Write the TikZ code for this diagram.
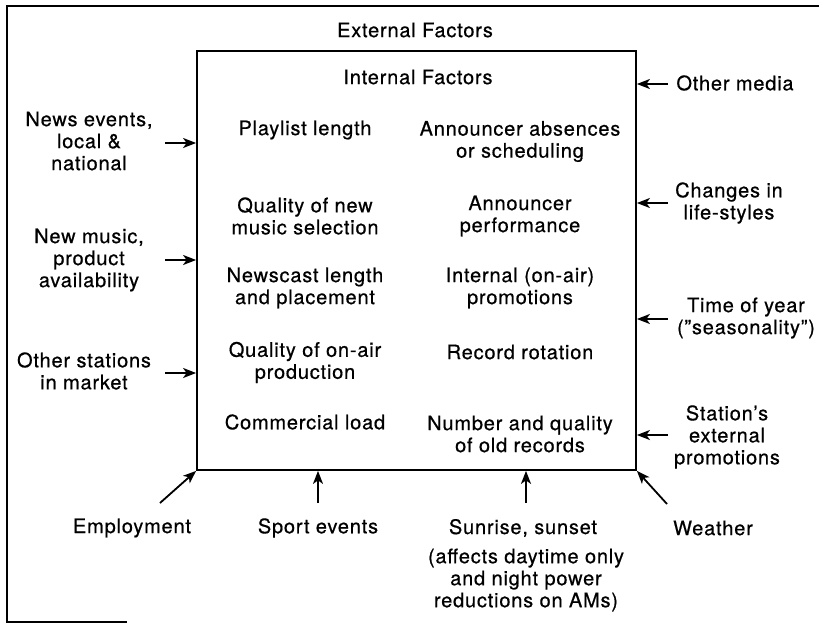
\documentclass[tikz,border=0pt]{standalone}
\usepackage{fontspec}
\setmainfont{TeX Gyre Heros}[LetterSpace=4,FakeBold=0.6]
\usetikzlibrary{arrows.meta}
\begin{document}
\begin{tikzpicture}[x=1pt,y=-1pt,
  font=\fontsize{20}{22}\selectfont,
  lbl/.style={align=center, inner sep=0pt},
  arr/.style={line width=1.8pt, -{Stealth[length=13pt,width=10pt,inset=3.5pt]}},
  frameline/.style={line width=1.8pt}]
\useasboundingbox (0,0) rectangle (819,624);

% outer partial frame
\coordinate (f1) at (819,6);
\coordinate (f2) at (7,6);
\coordinate (f3) at (7,622);
\coordinate (f4) at (127,622);
\draw[frameline] (f1) -- (f2) -- (f3) -- (f4);

% inner box
\node[draw, frameline, minimum width=439pt, minimum height=419pt, inner sep=0pt] (inner) at (416.5,260.5) {};

% titles
\node[lbl] (ext) at (415,30) {External Factors};
\node[lbl] (int) at (418,77) {Internal Factors};

% internal factors
\node[lbl] (i1) at (305,130) {Playlist length};
\node[lbl] (i2) at (520,141.5) {Announcer absences\\or scheduling};
\node[lbl] (i3) at (305,216) {Quality of new\\music selection};
\node[lbl] (i4) at (520,216) {Announcer\\performance};
\node[lbl] (i5) at (305,288) {Newscast length\\and placement};
\node[lbl] (i6) at (520,288) {Internal (on-air)\\promotions};
\node[lbl] (i7) at (305,362.5) {Quality of on-air\\production};
\node[lbl] (i8) at (520,352) {Record rotation};
\node[lbl] (i9) at (305,422) {Commercial load};
\node[lbl] (i10) at (520,434) {Number and quality\\of old records};

% left external factors
\node[lbl] (l1) at (89,141) {News events,\\local \&\\national};
\node[lbl] (l2) at (89,260) {New music,\\product\\availability};
\node[lbl] (l3) at (84,371) {Other stations\\in market};
\coordinate (la1) at (165,143);
\coordinate (la2) at (165,260);
\coordinate (la3) at (165,373);
\draw[arr] (la1) -- (la1 -| inner.west);
\draw[arr] (la2) -- (la2 -| inner.west);
\draw[arr] (la3) -- (la3 -| inner.west);

% right external factors
\node[lbl] (r1) at (735,83) {Other media};
\node[lbl] (r2) at (729,203) {Changes in\\life-styles};
\node[lbl] (r3) at (746,318) {Time of year\\(''seasonality'')};
\node[lbl] (r4) at (727,437) {Station's\\external\\promotions};
\coordinate (ra1) at (668,84);
\coordinate (ra2) at (668,203);
\coordinate (ra3) at (668,319);
\coordinate (ra4) at (668,435);
\draw[arr] (ra1) -- (ra1 -| inner.east);
\draw[arr] (ra2) -- (ra2 -| inner.east);
\draw[arr] (ra3) -- (ra3 -| inner.east);
\draw[arr] (ra4) -- (ra4 -| inner.east);

% bottom external factors
\node[lbl] (b1) at (132,528) {Employment};
\node[lbl] (b2) at (318,528) {Sport events};
\node[lbl] (b3) at (523,528) {Sunrise, sunset};
\node[lbl] (b3n) at (526,580) {(affects daytime only\\and night power\\reductions on AMs)};
\node[lbl] (b4) at (713,528) {Weather};
\coordinate (ba1) at (160,503);
\coordinate (ba2) at (318,503);
\coordinate (ba3) at (526,503);
\coordinate (ba4) at (667,504);
\draw[arr] (ba1) -- (inner.south west);
\draw[arr] (ba2) -- (ba2 |- inner.south);
\draw[arr] (ba3) -- (ba3 |- inner.south);
\draw[arr] (ba4) -- (inner.south east);
\end{tikzpicture}
\end{document}
